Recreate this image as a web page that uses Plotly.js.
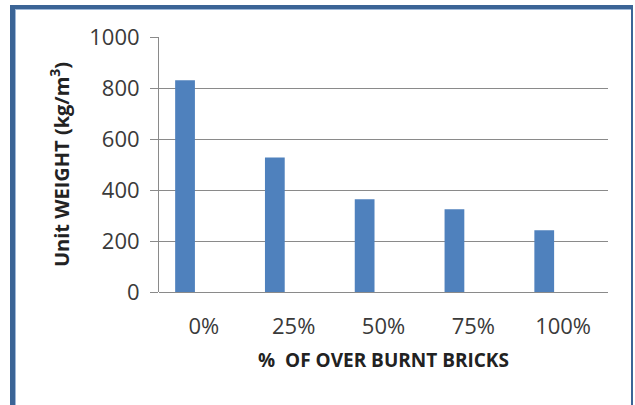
<!DOCTYPE html>
<html>
<head>
<meta charset="utf-8">
<script src="https://cdn.plot.ly/plotly-3.0.1.min.js"></script>
<style>
  html, body { margin: 0; padding: 0; background: #ffffff; }
  #wrap { position: relative; width: 635px; height: 405px; overflow: hidden; }
  #chart { position: absolute; left: 0; top: 0; width: 635px; height: 405px; }
  #frame {
    position: absolute; left: 10px; top: 5px; width: 616px; height: 420px;
    border-left: 5px solid #3b6496; border-top: 4px solid #3b6496; border-right: 2px solid #3b6496;
    box-shadow: inset 1px 1px 0 #9fb8d8;
    pointer-events: none;
  }
</style>
</head>
<body>
<div id="wrap">
  <div id="chart"></div>
  <div id="frame"></div>
</div>
<script>
// Unit weight of blocks for each replacement level of over burnt bricks
const categories = ["0%", "25%", "50%", "75%", "100%"];
const unitWeight = [830, 527, 364, 325, 242];
const yTicks = [0, 200, 400, 600, 800, 1000];

const textColor = "#3a3a3a";
const gridColor = "#8a8a8a";

const trace = {
  type: "bar",
  x: categories,
  y: unitWeight,
  width: 0.22,
  offset: -0.32,
  marker: { color: "#4f81bd", line: { width: 0 } },
  hoverinfo: "x+y"
};

const layout = {
  width: 635,
  height: 405,
  margin: { l: 159, r: 27, t: 37, b: 113 },
  paper_bgcolor: "#ffffff",
  plot_bgcolor: "#ffffff",
  showlegend: false,
  font: { family: "Open Sans, sans-serif", color: textColor },
  xaxis: {
    type: "category",
    categoryorder: "array",
    categoryarray: categories,
    showgrid: false,
    showline: false,
    zeroline: false,
    ticks: "",
    ticklabelstandoff: 19,
    tickfont: { size: 22, color: textColor },
    title: {
      text: "%  OF OVER BURNT BRICKS",
      font: { size: 19, color: "#222222", family: "Open Sans, sans-serif", weight: "bold" },
      standoff: 14
    }
  },
  yaxis: {
    range: [0, 1000],
    tickvals: yTicks,
    ticktext: yTicks.map(String),
    showgrid: true,
    gridcolor: gridColor,
    gridwidth: 1,
    showline: true,
    linecolor: gridColor,
    linewidth: 1,
    zeroline: true,
    zerolinecolor: gridColor,
    zerolinewidth: 1,
    ticks: "outside",
    ticklen: 8,
    tickcolor: gridColor,
    ticklabelstandoff: 6,
    tickfont: { size: 22, color: textColor },
    title: {
      text: "Unit WEIGHT (kg/m<sup>3</sup>)",
      font: { size: 20, color: "#222222", family: "Open Sans, sans-serif", weight: "bold" },
      standoff: 14
    }
  }
};

Plotly.newPlot("chart", [trace], layout, { staticPlot: true, displayModeBar: false });
</script>
</body>
</html>
